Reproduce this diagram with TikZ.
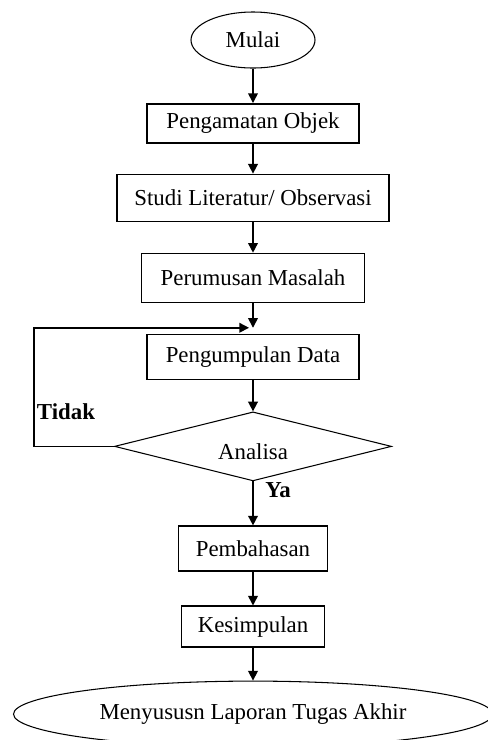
\documentclass[tikz,border=0pt]{standalone}
\usepackage{fontspec}
\setmainfont{Liberation Serif}
\usepackage{tikz}
\usetikzlibrary{positioning,arrows.meta,shapes.geometric}

\begin{document}
\begin{tikzpicture}[
    font=\fontsize{13}{15}\selectfont,
    box/.style={rectangle, draw, line width=0.9pt, align=center, inner sep=2pt},
    term/.style={ellipse, draw, line width=0.6pt, inner sep=0pt},
    gate/.style={diamond, draw, line width=0.6pt, inner sep=0pt, minimum width=5.54cm, minimum height=1.38cm},
    arrow/.style={line width=0.9pt, -{Triangle[length=5.5pt,width=5.5pt]}},
    lbl/.style={font=\fontsize{13}{15}\selectfont\bfseries}
]
\useasboundingbox (0,0) rectangle (9.76,-14.8);
\node[term, minimum width=2.48cm, minimum height=1.12cm] (mulai) at (5.06,-0.80) {Mulai};
\node[box, below=0.69cm of mulai, minimum width=4.24cm, minimum height=0.78cm] (pengamatan) {Pengamatan Objek};
\node[box, below=0.60cm of pengamatan, minimum width=5.44cm, minimum height=0.94cm] (studi) {Studi Literatur/ Observasi};
\node[box, below=0.61cm of studi, minimum width=4.46cm, minimum height=0.98cm] (perumusan) {Perumusan Masalah};
\node[box, below=0.61cm of perumusan, minimum width=4.24cm, minimum height=0.90cm] (pengumpulan) {Pengumpulan Data};
\coordinate[above=0.12cm of pengumpulan] (merge);
\node[gate, below=0.62cm of pengumpulan] (analisa) {};
\node[yshift=-0.10cm] (analisatext) at (analisa) {Analisa};
\node[box, below=0.88cm of analisa, minimum width=2.98cm, minimum height=0.90cm] (pembahasan) {Pembahasan};
\node[box, below=0.67cm of pembahasan, minimum width=2.86cm, minimum height=0.82cm] (kesimpulan) {Kesimpulan};
\node[term, below=0.65cm of kesimpulan, minimum width=9.58cm, minimum height=1.32cm] (laporan) {Menyususn Laporan Tugas Akhir};
\node[lbl] (tidak) at (1.32,-8.24) {Tidak};
\node[lbl] (ya) at (5.56,-9.80) {Ya};
\draw[arrow] (mulai) -- (pengamatan);
\draw[arrow] (pengamatan) -- (studi);
\draw[arrow] (studi) -- (perumusan);
\draw[arrow] (perumusan) -- (merge);
\draw[arrow] (pengumpulan) -- (analisa);
\draw[arrow] (analisa.west) -- ++(-1.6,0) |- ([xshift=-0.08cm]merge);
\draw[arrow] (analisa) -- (pembahasan);
\draw[arrow] (pembahasan) -- (kesimpulan);
\draw[arrow] (kesimpulan) -- (laporan);
\end{tikzpicture}
\end{document}
